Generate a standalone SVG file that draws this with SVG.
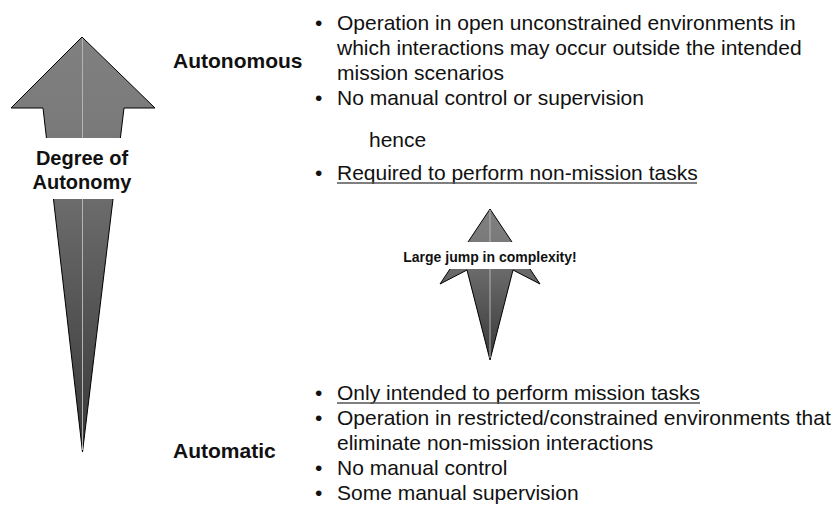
<svg xmlns="http://www.w3.org/2000/svg" width="840" height="509" viewBox="0 0 840 509">
  <style>
    .body { font-family: "Liberation Sans", Arial, sans-serif; font-size: 21px; fill: #111; }
    .label { font-family: "Liberation Sans", Arial, sans-serif; font-size: 21px; font-weight: bold; fill: #111; }
    .scale-label { font-family: "Liberation Sans", Arial, sans-serif; font-size: 20px; font-weight: bold; fill: #111; }
    .small { font-family: "Liberation Sans", Arial, sans-serif; font-size: 14px; font-weight: bold; fill: #111; }
    .arrow { stroke: #000; stroke-width: 1; stroke-linejoin: miter; }
    .spine { stroke: #b4b4b4; stroke-width: 1; }
    .underline { stroke: #555; stroke-width: 1.5; }
  </style>
  <defs>
    <linearGradient id="shade" x1="0" y1="0" x2="0" y2="1">
      <stop offset="0" stop-color="#808080"/>
      <stop offset="0.22" stop-color="#7a7a7a"/>
      <stop offset="1" stop-color="#383838"/>
    </linearGradient>
  </defs>
  <rect width="840" height="509" fill="#fff"/>

  <!-- Degree of autonomy scale -->
  <g id="autonomy-scale">
    <polygon class="arrow" fill="url(#shade)" points="82,37 155,108 124,108 82.5,452 43,108 11,108"/>
    <line class="spine" x1="82.5" y1="38" x2="82.5" y2="450"/>
    <rect x="0" y="138" width="166" height="61" fill="#fff"/>
    <text class="scale-label" x="82" y="165" text-anchor="middle">Degree of</text>
    <text class="scale-label" x="82" y="189" text-anchor="middle">Autonomy</text>
  </g>

  <!-- Autonomous systems -->
  <g id="autonomous">
    <text class="label" x="173" y="68">Autonomous</text>
    <g class="body">
      <text x="315" y="29.5">•</text>
      <text x="337" y="29.5">Operation in open unconstrained environments in</text>
      <text x="337" y="54.5">which interactions may occur outside the intended</text>
      <text x="337" y="79.5">mission scenarios</text>
      <text x="315" y="104.5">•</text>
      <text x="337" y="104.5">No manual control or supervision</text>
      <text x="369" y="147">hence</text>
      <text x="315" y="180">•</text>
      <text x="337" y="180">Required to perform non-mission tasks</text>
    </g>
    <line class="underline" x1="337" y1="183" x2="697" y2="183"/>
  </g>

  <!-- Complexity jump -->
  <g id="complexity-jump">
    <polygon class="arrow" fill="url(#shade)" points="490,209 540,284 513,270 490,360 467,270 440,284"/>
    <line class="spine" x1="490" y1="210" x2="490" y2="358"/>
    <rect x="398" y="242" width="184" height="27" fill="#fff"/>
    <text class="small" x="490" y="262" text-anchor="middle">Large jump in complexity!</text>
  </g>

  <!-- Automatic systems -->
  <g id="automatic">
    <text class="label" x="173" y="458">Automatic</text>
    <g class="body">
      <text x="315" y="400">•</text>
      <text x="337" y="400">Only intended to perform mission tasks</text>
      <text x="315" y="425">•</text>
      <text x="337" y="425">Operation in restricted/constrained environments that</text>
      <text x="337" y="450">eliminate non-mission interactions</text>
      <text x="315" y="475">•</text>
      <text x="337" y="475">No manual control</text>
      <text x="315" y="500">•</text>
      <text x="337" y="500">Some manual supervision</text>
    </g>
    <line class="underline" x1="337" y1="403" x2="700" y2="403"/>
  </g>
</svg>
